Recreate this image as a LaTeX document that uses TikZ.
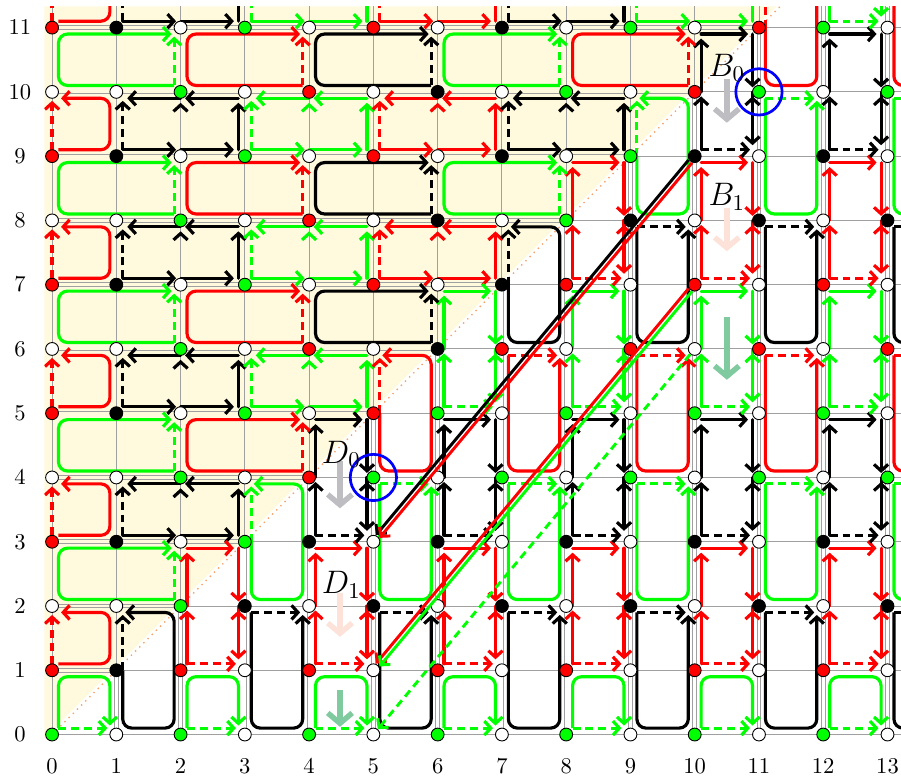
\documentclass[tikz,border=0pt]{standalone}
\usepackage{tikz}
\usetikzlibrary{arrows.meta}

\definecolor{cream}{HTML}{FFF9DD}
\definecolor{gridgray}{HTML}{A0A0A0}
\definecolor{mildorange}{HTML}{F5A36A}
\definecolor{arrowgray}{HTML}{BDBDC2}
\definecolor{arrowpink}{HTML}{FCE2D8}
\definecolor{arrowteal}{HTML}{80CA9F}

% colour of a loop: by column in the brick part, by row in the lower part
\newcommand\brickcol[1]{%
  \pgfmathtruncatemacro\cidx{mod(floor(#1/2),3)}%
  \ifcase\cidx\def\pcol{black}\or\def\pcol{green}\or\def\pcol{red}\fi}
\newcommand\vertcol[1]{%
  \pgfmathtruncatemacro\cidx{mod(floor(#1/2),3)}%
  \ifcase\cidx\def\pcol{red}\or\def\pcol{black}\or\def\pcol{green}\fi}

\tikzset{
  barb/.tip={Straight Barb[length=1mm,width=2.2mm]},
  lane/.style={line width=1.4pt, -barb},
  steplane/.style={lane, line cap=round, shorten >=2pt},
  roundlane/.style={lane, rounded corners=4pt},
  dashlane/.style={lane, dash pattern=on 3.5pt off 2.2pt},
  twin/.style={draw=gridgray, line width=0.35pt, double distance=1.3pt},
}

% brick row: rounded loop to the left of the dot
\newcommand\rowloop[2]{%
  \draw[roundlane,color=\pcol] (#1-0.1,#2+0.1) -- (#1-1.9,#2+0.1)
    -- (#1-1.9,#2+0.9) -- (#1-0.14,#2+0.9);
  \draw[dashlane,color=\pcol] (#1-0.1,#2+0.1) -- (#1-0.1,#2+0.86);}
% left border: small loop
\newcommand\leftloop[2]{%
  \draw[roundlane,color=\pcol] (0.1,#2+0.1) -- (0.9,#2+0.1)
    -- (0.9,#2+0.9) -- (0.14,#2+0.9);
  \draw[dashlane,color=\pcol] (0,#2+0.1) -- (0,#2+0.86);}
% brick row: path along the edges, to the right of the dot
\newcommand\rowpath[2]{%
  \draw[steplane,color=\pcol]
    (#1+0.1,#2+0.1) edge (#1+1,#2+0.1)
    (#1+1,#2+0.1) edge (#1+1.9,#2+0.1)
    (#1+1.9,#2+0.1) edge (#1+1.9,#2+0.9)
    (#1+1.9,#2+0.9) edge (#1+1,#2+0.9)
    (#1+1,#2+0.9) edge (#1+0.1,#2+0.9);
  \draw[dashlane,color=\pcol] (#1+0.1,#2+0.1) -- (#1+0.1,#2+0.86);}
% on the diagonal
\newcommand\diagloop[2]{%
  \draw[roundlane,color=\pcol] (#1+0.1,#2) -- (#1+0.1,#2-0.9) -- (#1+0.9,#2-0.9)
    -- (#1+0.9,#2+0.9) -- (#1+0.14,#2+0.9);
  \draw[dashlane,color=\pcol] (#1+0.1,#2) -- (#1+0.1,#2+0.86);}
% lower part: rounded loop below the dot
\newcommand\colloop[2]{%
  \draw[roundlane,color=\pcol] (#1+0.1,#2-0.1) -- (#1+0.1,#2-1.9) -- (#1+0.9,#2-1.9)
    -- (#1+0.9,#2-0.14);
  \draw[dashlane,color=\pcol] (#1+0.1,#2-0.1) -- (#1+0.86,#2-0.1);}
% bottom border: small loop
\newcommand\baseloop[2]{%
  \draw[roundlane,color=\pcol] (#1+0.1,0.1) -- (#1+0.1,0.9) -- (#1+0.9,0.9)
    -- (#1+0.9,0.14);
  \draw[dashlane,color=\pcol] (#1+0.1,0.1) -- (#1+0.86,0.1);}
% lower part: path along the edges, above the dot
\newcommand\colpath[2]{%
  \draw[steplane,color=\pcol]
    (#1+0.1,#2+0.1) edge (#1+0.1,#2+1)
    (#1+0.1,#2+1) edge (#1+0.1,#2+1.9)
    (#1+0.1,#2+1.9) edge (#1+0.9,#2+1.9)
    (#1+0.9,#2+1.9) edge (#1+0.9,#2+1)
    (#1+0.9,#2+1) edge (#1+0.9,#2+0.1);
  \draw[dashlane,color=\pcol] (#1+0.1,#2+0.1) -- (#1+0.86,#2+0.1);}

\begin{document}
\begin{tikzpicture}[x=1cm,y=1cm,
  vdot/.style={circle, draw=black, line width=0.4pt, inner sep=0pt, minimum size=2mm},
  tick/.style={inner sep=0pt},
  lbl/.style={font=\Large, inner sep=0pt},
  ring/.style={circle, draw=blue, line width=1.2pt, inner sep=0pt, minimum size=7.2mm},
  bigarrow/.style={line width=2.4pt, -{Straight Barb[length=1.6mm,width=3.8mm]}},
  diag/.style={line width=1.3pt, -barb},
]
\useasboundingbox (-0.81,-0.65) rectangle (13.21,11.43);

% axis numbers
\foreach \i in {0,...,13} \node[tick] (tx-\i) at (\i,-0.5) {$\i$};
\foreach \j in {0,...,11} \node[tick] (ty-\j) at (-0.5,\j) {$\j$};

\begin{scope}
\clip (-0.12,-0.12) rectangle (13.21,11.33);
\fill[cream] (-0.12,-0.06) -- (11.27,11.33) -- (-0.12,11.33) -- cycle;
\draw[gridgray, line width=0.4pt] (0,0) grid (13.5,11.5);

% doubled edges: rows above the diagonal, columns below it
\foreach \i in {0,...,13}
  \foreach \j in {0,...,11}{
    \ifnum\j>\i \draw[twin, double=cream] (\i,\j) -- (\i+1,\j);\fi
    \ifnum\i>\j \draw[twin, double=white] (\i,\j) -- (\i,\j+1);\fi
  }
\draw[mildorange, dotted, line width=0.6pt] (0,0) -- (11.4,11.4);

% loops, one for every coloured vertex
\foreach \x in {0,...,13}{
  \foreach \y in {0,...,12}{
    \pgfmathtruncatemacro\xyodd{mod(\x+\y,2)}%
    \ifnum\y=0
      \ifodd\x\relax\else\def\pcol{green}\baseloop{\x}{\y}\fi
    \else\ifnum\x=0
      \ifodd\y\relax\def\pcol{red}\leftloop{\x}{\y}\fi
    \else\ifnum\y<\x
      \ifnum\xyodd=1
        \vertcol{\y}%
        \ifodd\x\relax\colloop{\x}{\y}\else\colpath{\x}{\y}\fi
      \fi
    \else
      \ifnum\xyodd=0
        \brickcol{\x}%
        \ifodd\y\relax
          \ifnum\x=\y\relax\diagloop{\x}{\y}\else\rowpath{\x}{\y}\fi
        \else\rowloop{\x}{\y}\fi
      \fi
    \fi\fi\fi
  }}

% vertices
\foreach \x in {0,...,13}{
  \foreach \y in {0,...,11}{
    \def\pcol{white}%
    \pgfmathtruncatemacro\xyodd{mod(\x+\y,2)}%
    \ifnum\y=0
      \ifodd\x\relax\else\def\pcol{green}\fi
    \else\ifnum\x=0
      \ifodd\y\relax\def\pcol{red}\fi
    \else\ifnum\y<\x
      \ifnum\xyodd=1 \vertcol{\y}\fi
    \else
      \ifnum\xyodd=0 \brickcol{\x}\fi
    \fi\fi\fi
    \node[vdot, fill=\pcol] (v-\x-\y) at (\x,\y) {};
  }}

% long diagonal moves
\draw[diag, black, transform canvas={shift={(-0.027,0.022)}}] (v-10-9) -- (v-5-3);
\draw[diag, red,   transform canvas={shift={(0.027,-0.022)}}] (v-10-9) -- (v-5-3);
\draw[diag, red,   transform canvas={shift={(-0.027,0.022)}}] (v-10-7) -- (v-5-1);
\draw[diag, green, transform canvas={shift={(0.027,-0.022)}}] (v-10-7) -- (v-5-1);
\draw[diag, green, dash pattern=on 3.5pt off 2.2pt] (v-10-6) -- (v-5-0);
\end{scope}

% marked vertices
\node[ring] (ring-B) at (v-11-10) {};
\node[ring] (ring-D) at (v-5-4) {};

% shifts
\coordinate (B0-top) at (10.5,10.2);  \coordinate (B0-end) at (10.5,9.52);
\coordinate (B1-top) at (10.5,8.2);   \coordinate (B1-end) at (10.5,7.52);
\coordinate (B2-top) at (10.5,6.5);   \coordinate (B2-end) at (10.5,5.52);
\coordinate (D0-top) at (4.48,4.25);  \coordinate (D0-end) at (4.48,3.52);
\coordinate (D1-top) at (4.48,2.2);   \coordinate (D1-end) at (4.48,1.52);
\coordinate (D2-top) at (4.48,0.7);   \coordinate (D2-end) at (4.48,0.12);
\draw[bigarrow, arrowgray] (B0-top) -- (B0-end);
\draw[bigarrow, arrowpink] (B1-top) -- (B1-end);
\draw[bigarrow, arrowteal] (B2-top) -- (B2-end);
\draw[bigarrow, arrowgray] (D0-top) -- (D0-end);
\draw[bigarrow, arrowpink] (D1-top) -- (D1-end);
\draw[bigarrow, arrowteal] (D2-top) -- (D2-end);

\node[lbl] (lab-B0) at (10.5,10.38) {$B_0$};
\node[lbl] (lab-B1) at (10.5,8.36) {$B_1$};
\node[lbl] (lab-D0) at (4.5,4.36) {$D_0$};
\node[lbl] (lab-D1) at (4.5,2.33) {$D_1$};
\end{tikzpicture}
\end{document}
